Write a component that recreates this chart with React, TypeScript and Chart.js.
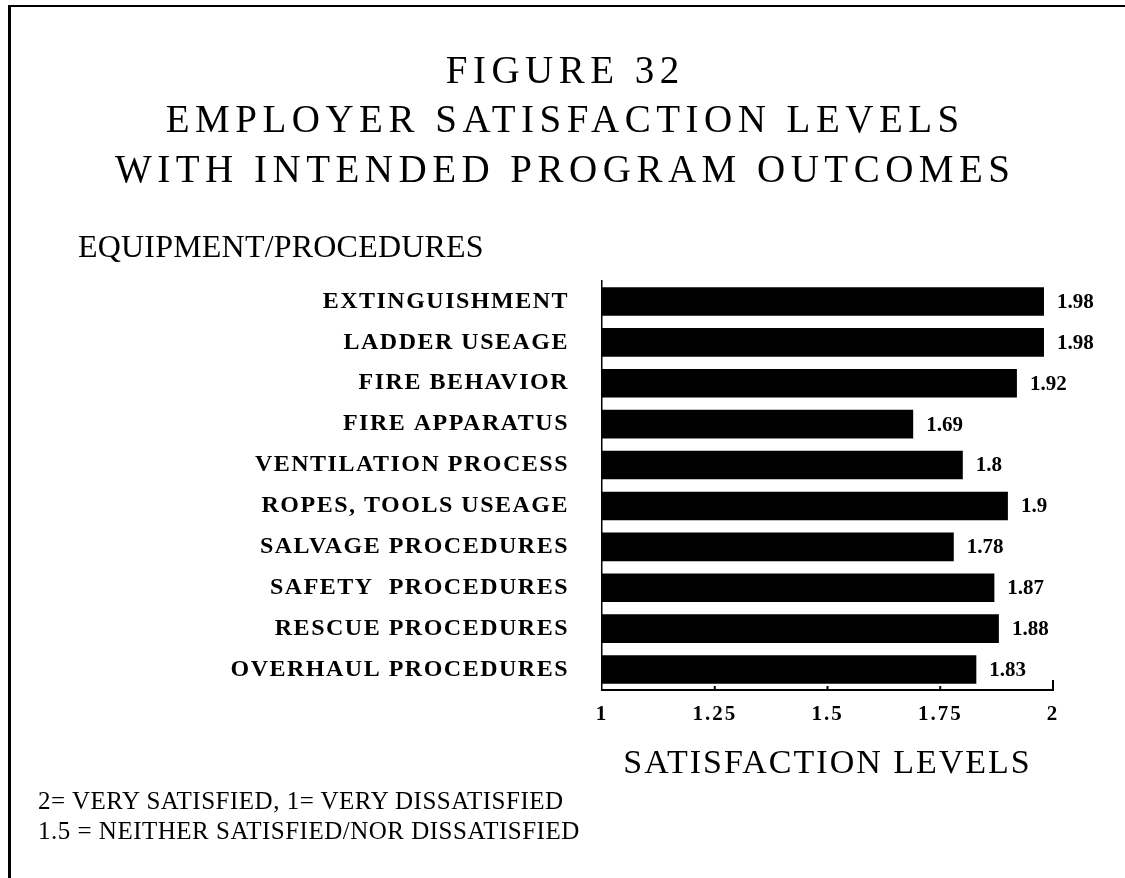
import React, { useEffect, useRef } from "react";
import { Chart, registerables } from "chart.js";

Chart.register(...registerables);

const categories = [
  "EXTINGUISHMENT",
  "LADDER USEAGE",
  "FIRE BEHAVIOR",
  "FIRE APPARATUS",
  "VENTILATION PROCESS",
  "ROPES, TOOLS USEAGE",
  "SALVAGE PROCEDURES",
  "SAFETY  PROCEDURES",
  "RESCUE PROCEDURES",
  "OVERHAUL PROCEDURES",
];
const satisfaction = [1.98, 1.98, 1.92, 1.69, 1.8, 1.9, 1.78, 1.87, 1.88, 1.83];
const xTicks = [1, 1.25, 1.5, 1.75, 2];
const titleLines = ["FIGURE 32", "EMPLOYER SATISFACTION LEVELS", "WITH INTENDED PROGRAM OUTCOMES"];
const sectionLabel = "EQUIPMENT/PROCEDURES";
const axisTitle = "SATISFACTION LEVELS";
const footnotes = ["2= VERY SATISFIED, 1= VERY DISSATISFIED", "1.5 = NEITHER SATISFIED/NOR DISSATISFIED"];

const SERIF = "'Liberation Serif'";

const valueLabelPlugin = {
  id: "valueLabels",
  beforeDraw(chart: any) {
    // spacing for x-axis labels / title (drawn before datasets)
    chart.ctx.letterSpacing = "2px";
  },
  afterDatasetsDraw(chart: any) {
    const ctx = chart.ctx;
    const meta = chart.getDatasetMeta(0);
    ctx.save();
    ctx.letterSpacing = "0px";
    ctx.fillStyle = "#000";
    ctx.font = `bold 21px ${SERIF}`;
    ctx.textAlign = "left";
    ctx.textBaseline = "middle";
    meta.data.forEach((bar: any, i: number) => {
      ctx.fillText(String(satisfaction[i]), bar.x + 13, bar.y + 1);
    });
    ctx.restore();
    // spacing for category labels (drawn after datasets)
    ctx.letterSpacing = "1.5px";
  },
  afterDraw(chart: any) {
    const ctx = chart.ctx;
    ctx.letterSpacing = "0px";
    const x = chart.scales.x;
    const bottom = chart.chartArea.bottom;
    ctx.save();
    ctx.strokeStyle = "#000";
    ctx.lineWidth = 2;
    xTicks.forEach((v, i) => {
      if (i === 0) return;
      const px = x.getPixelForValue(v);
      const len = i === xTicks.length - 1 ? 10 : 4;
      ctx.beginPath();
      ctx.moveTo(px, bottom);
      ctx.lineTo(px, bottom - len);
      ctx.stroke();
    });
    ctx.restore();
  },
};

export default function App() {
  const canvasRef = useRef<HTMLCanvasElement | null>(null);

  useEffect(() => {
    document.body.style.margin = "0";
    const canvas = canvasRef.current;
    if (!canvas) return;
    const chart = new Chart(canvas, {
      type: "bar",
      data: {
        labels: categories,
        datasets: [
          {
            data: satisfaction,
            backgroundColor: "#000",
            borderWidth: 0,
            barPercentage: 0.7,
            categoryPercentage: 1,
          },
        ],
      },
      options: {
        indexAxis: "y",
        animation: false,
        responsive: false,
        maintainAspectRatio: false,
        layout: { padding: { top: 281, right: 72, bottom: 88, left: 0 } },
        plugins: {
          legend: { display: false },
          tooltip: { enabled: false },
          title: { display: false },
        },
        scales: {
          x: {
            type: "linear",
            min: 1,
            max: 2,
            afterBuildTicks(scale: any) {
              scale.ticks = xTicks.map((v) => ({ value: v }));
            },
            afterFit(scale: any) {
              scale.height = 100;
            },
            grid: { display: false, drawTicks: false },
            border: { display: true, color: "#000", width: 2 },
            ticks: {
              color: "#000",
              padding: 12,
              font: { family: SERIF, size: 21, weight: "bold" },
              callback: (v: any) => String(v),
            },
            title: {
              display: true,
              text: axisTitle,
              color: "#000",
              font: { family: SERIF, size: 34, weight: "normal" },
              padding: { top: 0, bottom: 6 },
            },
          },
          y: {
            afterFit(scale: any) {
              scale.width = 602;
            },
            grid: { display: false, drawTicks: false },
            border: { display: true, color: "#000", width: 1.5 },
            ticks: {
              z: 1,
              color: "#000",
              padding: 33,
              font: { family: SERIF, size: 24, weight: "bold" },
            },
          },
        },
      },
      plugins: [valueLabelPlugin],
    });
    return () => chart.destroy();
  }, []);

  const serif = "'Liberation Serif', serif";
  return (
    <div style={{ position: "relative", width: 1125, height: 878, overflow: "hidden", background: "#fff" }}>
      <div style={{ position: "absolute", left: 8, top: 5, width: 3, height: 873, background: "#000" }} />
      <div style={{ position: "absolute", left: 8, top: 5, width: 1117, height: 2, background: "#000" }} />
      <canvas ref={canvasRef} width={1125} height={878} style={{ position: "absolute", left: 0, top: 0 }} />
      {titleLines.map((t, i) => (
        <div
          key={t}
          style={{
            position: "absolute",
            left: 0,
            width: 1125,
            top: [69, 118, 168][i] - 19.5,
            textAlign: "center",
            fontFamily: serif,
            fontSize: 39,
            lineHeight: "39px",
            letterSpacing: "5.5px",
            paddingLeft: 5.5,
            boxSizing: "border-box",
            whiteSpace: "nowrap",
            color: "#000",
          }}
        >
          {t}
        </div>
      ))}
      <div
        style={{
          position: "absolute",
          left: 78,
          top: 246 - 16,
          fontFamily: serif,
          fontSize: 32,
          lineHeight: "32px",
          letterSpacing: "0.2px",
          whiteSpace: "nowrap",
          color: "#000",
        }}
      >
        {sectionLabel}
      </div>
      {footnotes.map((t, i) => (
        <div
          key={t}
          style={{
            position: "absolute",
            left: 38,
            top: [800, 830][i] - 12.5,
            fontFamily: serif,
            fontSize: 25,
            lineHeight: "25px",
            letterSpacing: "0.5px",
            whiteSpace: "nowrap",
            color: "#000",
          }}
        >
          {t}
        </div>
      ))}
    </div>
  );
}
